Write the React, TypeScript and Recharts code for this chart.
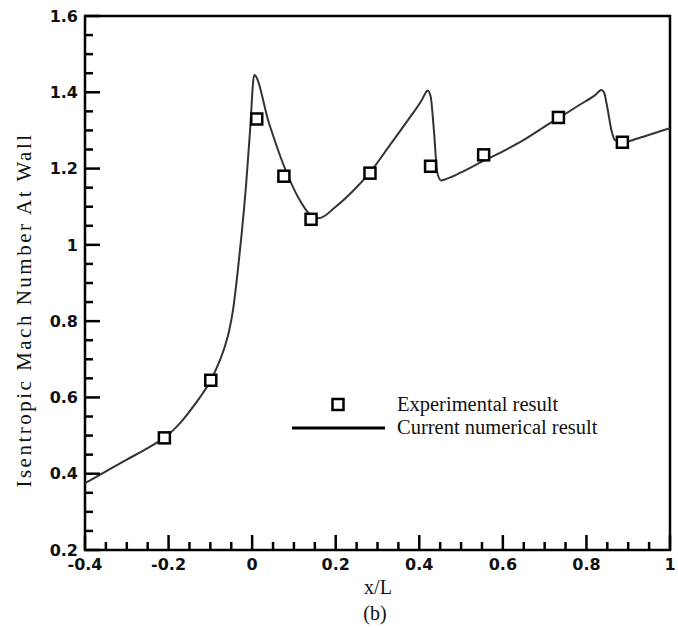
import React from "react";
import {
  ComposedChart,
  Line,
  Scatter,
  XAxis,
  YAxis,
  ReferenceArea,
  Legend,
  Customized,
} from "recharts";

// computed curve (x/L, Mach)
const curveX = [
  -0.4, -0.35, -0.3, -0.25, -0.23, -0.21, -0.19, -0.17, -0.15, -0.125, -0.1,
  -0.08, -0.065, -0.055, -0.045, -0.035, -0.025, -0.015, -0.005, 0.005, 0.04,
  0.075, 0.11, 0.14, 0.16, 0.2, 0.24, 0.282, 0.33, 0.38, 0.405, 0.415, 0.42,
  0.427, 0.435, 0.443, 0.452, 0.47, 0.5, 0.55, 0.6, 0.65, 0.7, 0.733, 0.785,
  0.82, 0.836, 0.842, 0.85, 0.86, 0.868, 0.885, 0.92, 0.96, 1.0,
];
const curveY = [
  0.375, 0.406, 0.437, 0.467, 0.48, 0.494, 0.513, 0.536, 0.563, 0.6, 0.643,
  0.69, 0.735, 0.775, 0.835, 0.925, 1.03, 1.15, 1.3, 1.445, 1.32, 1.21, 1.125,
  1.078, 1.07, 1.1, 1.14, 1.19, 1.262, 1.338, 1.378, 1.398, 1.405, 1.39, 1.3,
  1.19, 1.169, 1.175, 1.19, 1.218, 1.245, 1.275, 1.31, 1.332, 1.368, 1.392,
  1.406, 1.4, 1.36, 1.3, 1.275, 1.268, 1.278, 1.292, 1.306,
];

// experimental points
const expX = [-0.21, -0.099, 0.011, 0.076, 0.141, 0.282, 0.427, 0.554, 0.733, 0.886];
const expY = [0.494, 0.645, 1.33, 1.18, 1.067, 1.188, 1.206, 1.236, 1.334, 1.269];

const xTicks = [
  -0.4, -0.35, -0.3, -0.25, -0.2, -0.15, -0.1, -0.05, 0, 0.05, 0.1, 0.15, 0.2,
  0.25, 0.3, 0.35, 0.4, 0.45, 0.5, 0.55, 0.6, 0.65, 0.7, 0.75, 0.8, 0.85, 0.9,
  0.95, 1,
];
const yTicks = [
  0.2, 0.25, 0.3, 0.35, 0.4, 0.45, 0.5, 0.55, 0.6, 0.65, 0.7, 0.75, 0.8, 0.85,
  0.9, 0.95, 1, 1.05, 1.1, 1.15, 1.2, 1.25, 1.3, 1.35, 1.4, 1.45, 1.5, 1.55, 1.6,
];

const curveData = curveX.map((x, i) => ({ x, y: curveY[i] }));
const expData = expX.map((x, i) => ({ x, y: expY[i] }));

const isMajor = (v: number) => Math.abs(v * 5 - Math.round(v * 5)) < 1e-6;
const fmt = (v: number) => String(Math.round(v * 10) / 10);

const tickFont = {
  fontFamily: "DejaVu Sans",
  fontWeight: 700,
  fontSize: 16,
  fill: "#111",
};
const serif = "'Liberation Serif', 'Times New Roman', serif";

const YTick = (props: any) => {
  const { x, y, payload } = props;
  const v = payload.value as number;
  const major = isMajor(v);
  return (
    <g>
      <line x1={x} x2={x + (major ? 15 : 8)} y1={y} y2={y} stroke="#000" strokeWidth={2.5} />
      {major && (
        <text x={x - 7} y={y} dy="0.36em" textAnchor="end" {...tickFont}>
          {fmt(v)}
        </text>
      )}
    </g>
  );
};

const XTick = (props: any) => {
  const { x, y, payload } = props;
  const v = payload.value as number;
  const major = isMajor(v);
  return (
    <g>
      <line x1={x} x2={x} y1={y} y2={y - (major ? 15 : 8)} stroke="#000" strokeWidth={2.5} />
      {major && (
        <text x={x} y={y + 14} dy="0.36em" textAnchor="middle" {...tickFont}>
          {fmt(v)}
        </text>
      )}
    </g>
  );
};

const Square = (props: any) => {
  const { cx, cy } = props;
  return (
    <rect x={cx - 5.5} y={cy - 5.5} width={11} height={11} fill="#fff" stroke="#000" strokeWidth={2.5} />
  );
};

const LegendBox = () => (
  <div style={{ fontFamily: serif, fontSize: 20.5, color: "#111", lineHeight: "23px" }}>
    <div style={{ display: "flex", alignItems: "center" }}>
      <svg width={105} height={23}>
        <rect x={40.5} y={6} width={11} height={11} fill="#fff" stroke="#000" strokeWidth={2.5} />
      </svg>
      <span>Experimental result</span>
    </div>
    <div style={{ display: "flex", alignItems: "center" }}>
      <svg width={105} height={23}>
        <line x1={0} x2={93} y1={12} y2={12} stroke="#000" strokeWidth={3} />
      </svg>
      <span>Current numerical result</span>
    </div>
  </div>
);

const Titles = () => (
  <g>
    <text
      x={0}
      y={0}
      transform="translate(31, 310) rotate(-90)"
      textAnchor="middle"
      fontFamily={serif}
      fontSize={21}
      letterSpacing={2.5}
      fill="#111"
    >
      Isentropic Mach Number At Wall
    </text>
    <text x={378} y={594} textAnchor="middle" fontFamily={serif} fontSize={20} fill="#111">
      x/L
    </text>
    <text x={375} y={620} textAnchor="middle" fontFamily={serif} fontSize={20} fill="#111">
      (b)
    </text>
  </g>
);

export default function App() {
  return (
    <div style={{ position: "absolute", left: 0, top: 0, width: 678, height: 628, background: "#fff" }}>
      <ComposedChart
        width={678}
        height={628}
        margin={{ top: 16, right: 8, left: 0, bottom: 58 }}
      >
        <XAxis
          dataKey="x"
          type="number"
          domain={[-0.4, 1]}
          ticks={xTicks}
          interval={0}
          allowDataOverflow
          axisLine={false}
          tickLine={false}
          tickSize={0}
          tickMargin={0}
          height={20}
          tick={<XTick />}
        />
        <YAxis
          dataKey="y"
          type="number"
          domain={[0.2, 1.6]}
          ticks={yTicks}
          interval={0}
          allowDataOverflow
          axisLine={false}
          tickLine={false}
          tickSize={0}
          tickMargin={0}
          width={85}
          tick={<YTick />}
        />
        <ReferenceArea
          x1={-0.4}
          x2={1}
          y1={0.2}
          y2={1.6}
          fill="none"
          fillOpacity={0}
          stroke="#000"
          strokeWidth={2.5}
          ifOverflow="visible"
        />
        <Line
          data={curveData}
          dataKey="y"
          type="monotone"
          stroke="#333"
          strokeWidth={2}
          dot={false}
          isAnimationActive={false}
          legendType="none"
        />
        <Scatter
          data={expData}
          dataKey="y"
          shape={<Square />}
          isAnimationActive={false}
          legendType="none"
        />
        <Legend
          content={<LegendBox />}
          layout="horizontal"
          verticalAlign="middle"
          align="center"
          wrapperStyle={{ position: "absolute", left: 292, top: 393, width: 360 }}
        />
        <Customized component={<Titles />} />
      </ComposedChart>
    </div>
  );
}
